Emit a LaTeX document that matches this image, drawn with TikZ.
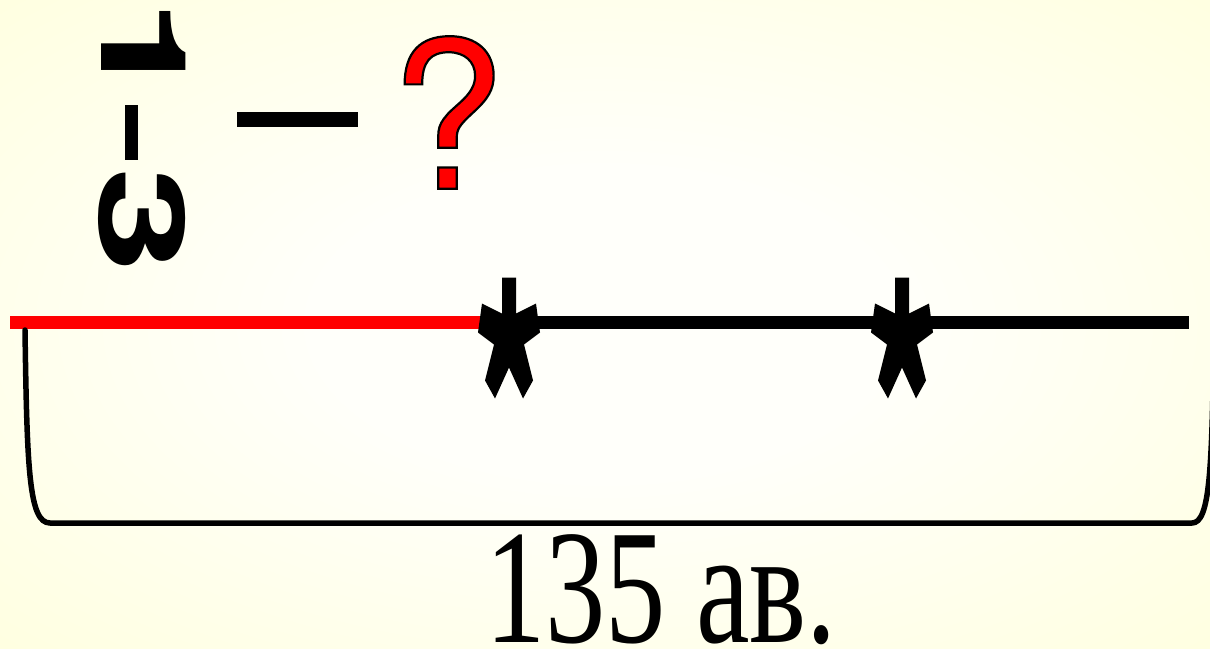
\documentclass[tikz,border=0pt]{standalone}
\usepackage{fontspec}
\usepackage{graphicx}
\setmainfont{Liberation Serif}
\newfontfamily\sansf{TeX Gyre Heros}
\definecolor{bgin}{HTML}{FFFFFA}
\definecolor{bgout}{HTML}{FFFFC6}
\definecolor{qred}{HTML}{FF0000}
\pgfdeclareradialshading{bgshade}{\pgfpoint{0bp}{0bp}}{color(0bp)=(bgin); color(12bp)=(bgin); color(60bp)=(bgout); color(72bp)=(bgout)}
\newcommand\outlinetext[1]{\special{pdf:literal direct 0 0 0 RG 2 Tr 2.2 w}#1\special{pdf:literal direct 0 Tr}}
\tikzset{
  seg/.style={line width=13pt},
  bracketline/.style={line width=5.5pt, line cap=round, line join=round},
  asterisk/.pic={
    \fill[black] (-7,-45) -- (7,-45) -- (7,-9) -- (27,-19) -- (31,10) -- (15,22)
      -- (24,58) -- (14,76) -- (0,45) -- (-14,76) -- (-24,58) -- (-15,22)
      -- (-31,10) -- (-27,-19) -- (-7,-9) -- cycle;
  },
  bigdigit/.style={rotate=-90, inner sep=0pt, font=\fontsize{119}{119}\sansf\bfseries},
  bar/.style={fill=black, inner sep=0pt}
}
\begin{document}
\begin{tikzpicture}[x=1pt,y=-1pt]
\useasboundingbox (0,0) rectangle (1210,648);
\shade[shading=bgshade] (0,0) rectangle (1210,648);

% fraction written sideways
\node[bigdigit] (one) at (143.5,51) {\scalebox{1.6}[1]{\makebox[0.3em][c]{1}}};
\node[bar, minimum width=13pt, minimum height=55pt] (fbar) at (131.5,132.5) {};
\node[bigdigit] (three) at (142.5,220) {\scalebox{1.6}[1]{3}};

% dash and question mark
\node[bar, minimum width=121pt, minimum height=15pt] (dash) at (297.5,119.5) {};
\node[inner sep=0pt, font=\fontsize{206}{206}\sansf] (q) at (447.5,112.5) {\textcolor{qred}{\outlinetext{?}}};

% segment line
\coordinate (s0) at (10,322.5);
\coordinate (s1) at (509,322.5);
\coordinate (s2) at (902,322.5);
\coordinate (s3) at (1189,322.5);
\draw[seg, red] (s0) -- (s1);
\draw[seg, black] (s1) -- (s3);
\pic at (s1) {asterisk};
\pic at (s2) {asterisk};

% brace
\coordinate (bl) at (25,330);
\coordinate (br) at (1214,330);
\draw[bracketline] (bl) .. controls (27,470) and (29,523) .. (50,523) -- (1192,523)
  .. controls (1210,523) and (1212,470) .. (br);

% total
\node[anchor=base, inner sep=0pt, font=\fontsize{163}{163}\selectfont] (total) at (661,642) {\scalebox{0.74}[1]{135 ав.}};
\end{tikzpicture}
\end{document}
